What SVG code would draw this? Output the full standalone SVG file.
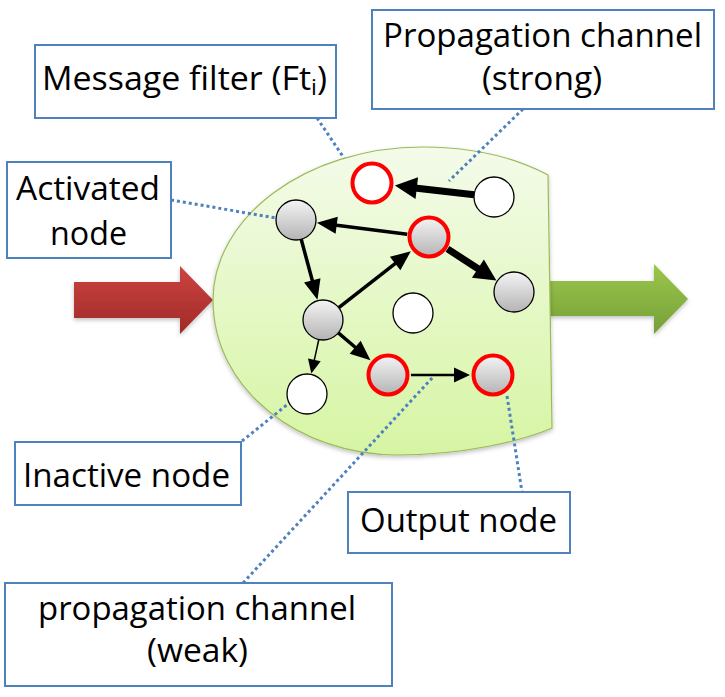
<svg xmlns="http://www.w3.org/2000/svg" width="725" height="697" viewBox="0 0 725 697">
<style>
.box{fill:#ffffff;stroke:#4f81bd;stroke-width:2}
.lbl{font-family:"Open Sans","Liberation Sans",sans-serif;font-size:32px;fill:#000;text-anchor:middle}
.lead{fill:none;stroke:#4f81bd;stroke-width:3;stroke-dasharray:3 3}
.nw{fill:#fff;stroke:#000;stroke-width:1.3}
.ng{fill:url(#gray);stroke:#000;stroke-width:1.3}
.nrw{fill:#fff;stroke:#ff0000;stroke-width:4}
.nrg{fill:url(#gray);stroke:#ff0000;stroke-width:4}
.e{fill:none;stroke:#000}
</style>
<defs>
<linearGradient id="gray" x1="0" y1="0" x2="0" y2="1">
<stop offset="0" stop-color="#f4f4f4"/><stop offset="1" stop-color="#b4b4b4"/>
</linearGradient>
<linearGradient id="green" x1="0" y1="0" x2="0" y2="1">
<stop offset="0" stop-color="#f4fbea"/><stop offset="1" stop-color="#d6f5a3"/>
</linearGradient>
<linearGradient id="red" x1="0" y1="0" x2="0" y2="1">
<stop offset="0" stop-color="#cc4440"/><stop offset="1" stop-color="#a02a28"/>
</linearGradient>
<linearGradient id="garrow" x1="0" y1="0" x2="0" y2="1">
<stop offset="0" stop-color="#9dc64c"/><stop offset="1" stop-color="#75a038"/>
</linearGradient>
<filter id="sh" x="-10%" y="-10%" width="120%" height="130%">
<feDropShadow dx="0" dy="2" stdDeviation="2" flood-color="#000" flood-opacity="0.25"/>
</filter>
<marker id="hL" markerUnits="userSpaceOnUse" viewBox="0 -11 22 22" markerWidth="22" markerHeight="22" refX="2" refY="0" orient="auto" overflow="visible">
<path d="M0,-11 L22,0 L0,11 z" fill="#000"/>
</marker>
<marker id="hM" markerUnits="userSpaceOnUse" viewBox="0 -8.5 20 17" markerWidth="20" markerHeight="17" refX="2" refY="0" orient="auto" overflow="visible">
<path d="M0,-8.5 L20,0 L0,8.5 z" fill="#000"/>
</marker>
<marker id="hN" markerUnits="userSpaceOnUse" viewBox="0 -7.5 16 15" markerWidth="16" markerHeight="15" refX="2" refY="0" orient="auto" overflow="visible">
<path d="M0,-7.5 L16,0 L0,7.5 z" fill="#000"/>
</marker>
<marker id="hS" markerUnits="userSpaceOnUse" viewBox="0 -6.5 14 13" markerWidth="14" markerHeight="13" refX="2" refY="0" orient="auto" overflow="visible">
<path d="M0,-6.5 L14,0 L0,6.5 z" fill="#000"/>
</marker>
</defs>

<g id="input-arrow">
<path d="M74,282 L180,282 L180,266 L213,300 L180,334 L180,318 L74,318 z" fill="url(#red)" filter="url(#sh)"/>
</g>
<g id="output-arrow">
<path d="M550,281 L654,281 L654,264 L688,299 L654,334 L654,316 L550,316 z" fill="url(#garrow)" filter="url(#sh)"/>
</g>
<g id="filter">
<path d="M548,175 C510,155 470,147 423,147 C305,147 213,218 213,300 C213,390 300,455 397,455 C460,455 520,442 552,428 Z" fill="url(#green)" stroke="#9bbb59" stroke-width="1.2" filter="url(#sh)"/>
</g>

<g id="connectors">
<path class="e" stroke-width="7" d="M474.1,194.7 L414.8,187.9" marker-end="url(#hL)"/>
<path class="e" stroke-width="3.5" d="M407.2,234.2 L334.7,225" marker-end="url(#hM)"/>
<path class="e" stroke-width="3.5" d="M301.2,239.3 L312.8,282.3" marker-end="url(#hM)"/>
<path class="e" stroke-width="3.5" d="M338.8,307.7 L396.7,262.3" marker-end="url(#hM)"/>
<path class="e" stroke-width="7" d="M447.5,248.9 L479.6,269.7" marker-end="url(#hL)"/>
<path class="e" stroke-width="3.5" d="M338.3,332.9 L356.7,348.5" marker-end="url(#hM)"/>
<path class="e" stroke-width="1.5" d="M318.8,339.5 L313.9,361.8" marker-end="url(#hS)"/>
<path class="e" stroke-width="2.5" d="M411,375 L456,375" marker-end="url(#hN)"/>
</g>

<g id="leaders">
<path class="lead" d="M317,118 L344,158"/>
<path class="lead" d="M171,200 L276,218"/>
<path class="lead" d="M523,109 L449,181"/>
<path class="lead" d="M242,441 L288,404"/>
<path class="lead" d="M507,396 L522,492"/>
<path class="lead" d="M243,583 L433,377"/>
</g>

<g id="n1"><circle class="nrw" cx="372" cy="183" r="19.5"/></g>
<g id="n2"><circle class="nw" cx="494" cy="197" r="20"/></g>
<g id="n3"><circle class="ng" cx="296" cy="220" r="20"/></g>
<g id="n4"><circle class="nrg" cx="429" cy="237" r="19.5"/></g>
<g id="n5"><circle class="ng" cx="514" cy="292" r="20"/></g>
<g id="n6"><circle class="ng" cx="323" cy="320" r="20"/></g>
<g id="n7"><circle class="nw" cx="413" cy="313" r="20"/></g>
<g id="n8"><circle class="nw" cx="307" cy="394" r="20"/></g>
<g id="n9"><circle class="nrg" cx="388" cy="375" r="19.5"/></g>
<g id="n10"><circle class="nrg" cx="493" cy="375" r="19.5"/></g>

<g id="label-filter">
<rect class="box" x="35" y="45" width="301" height="73"/>
<text class="lbl" x="184.5" y="90" textLength="285" lengthAdjust="spacingAndGlyphs">Message filter (Ft<tspan font-size="22" dy="5">i</tspan><tspan dy="-5">)</tspan></text>
</g>
<g id="label-activated">
<rect class="box" x="7" y="162" width="164" height="96"/>
<text class="lbl" x="88" y="200" textLength="144" lengthAdjust="spacingAndGlyphs">Activated</text>
<text class="lbl" x="88.5" y="245" textLength="77" lengthAdjust="spacingAndGlyphs">node</text>
</g>
<g id="label-strong">
<rect class="box" x="372" y="10" width="342" height="99"/>
<text class="lbl" x="542.5" y="47" textLength="319" lengthAdjust="spacingAndGlyphs">Propagation channel</text>
<text class="lbl" x="542" y="90" textLength="120" lengthAdjust="spacingAndGlyphs">(strong)</text>
</g>
<g id="label-inactive">
<rect class="box" x="15" y="442" width="226" height="63"/>
<text class="lbl" x="126.5" y="487" textLength="207" lengthAdjust="spacingAndGlyphs">Inactive node</text>
</g>
<g id="label-output">
<rect class="box" x="348" y="492" width="222" height="61"/>
<text class="lbl" x="458.5" y="532" textLength="197" lengthAdjust="spacingAndGlyphs">Output node</text>
</g>
<g id="label-weak">
<rect class="box" x="5" y="583" width="387" height="103"/>
<text class="lbl" x="197" y="620" textLength="318" lengthAdjust="spacingAndGlyphs">propagation channel</text>
<text class="lbl" x="197.5" y="662" textLength="101" lengthAdjust="spacingAndGlyphs">(weak)</text>
</g>
</svg>
